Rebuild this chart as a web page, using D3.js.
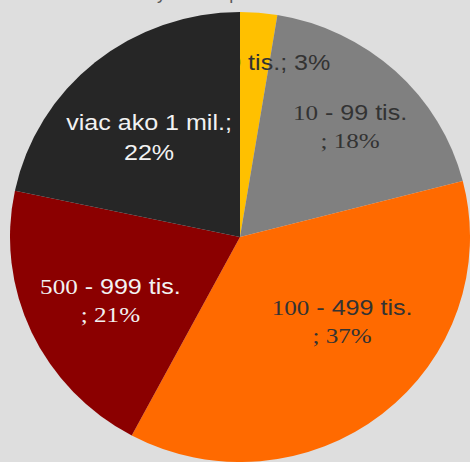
<!DOCTYPE html>
<html>
<head>
<meta charset="utf-8">
<script src="https://cdn.jsdelivr.net/npm/d3@7"></script>
<style>
  html, body { margin: 0; padding: 0; background: #dedede; }
  svg { display: block; }
  .sans { font-family: "Liberation Sans", Arial, sans-serif; }
  .serif { font-family: "Liberation Serif", "Times New Roman", serif; }
</style>
</head>
<body>
<svg id="chart"></svg>
<script>
// share of population by municipality size (percent)
var categories = ['1 - 9 tis.', '10 - 99 tis.', '100 - 499 tis.', '500 - 999 tis.', 'viac ako 1 mil.'];
var values = [2.6, 18.4, 36.8, 20.5, 21.7];
var colors = ['#ffc000', '#808080', '#ff6a00', '#8b0000', '#262626'];
var title = 'Počet obyvateľov podľa veľkosti sídla';

var width = 470, height = 462;
var cx = 240, cy = 237, r = 225, stretch = 230 / 225;

var svg = d3.select('#chart')
    .attr('width', width)
    .attr('height', height);

svg.append('rect')
  .attr('width', width)
  .attr('height', height)
  .style('fill', '#dedede');

// title is cut off by the top edge in the original
svg.append('text')
  .attr('class', 'sans')
  .attr('x', width / 2)
  .attr('y', -1)
  .attr('text-anchor', 'middle')
  .style('font-size', '18px')
  .style('fill', '#595959')
  .text(title);

var pie = d3.pie().sort(null).value(function (d) { return d; });
var arcs = pie(values);

var arc = d3.arc().innerRadius(0).outerRadius(r);

var g = svg.append('g')
    .attr('transform', 'translate(' + cx + ',' + cy + ') scale(' + stretch + ',1)');

g.selectAll('.slice')
  .data(arcs)
  .enter().append('path')
  .attr('class', 'slice')
  .attr('d', arc)
  .style('fill', function (d, i) { return colors[i]; });

function pct(i) {
  return Math.round(values[i]) + '%';
}

// label placement, like excel best fit: radius fraction and a small nudge
var labelRadius = [0.78, 0.67, 0.62, 0.66, 0.6];
var labelNudge = [[6, 0], [6, 0], [14, -26], [8, 0], [-4, 5]];

var labels = svg.append('g')
    .attr('transform', 'translate(' + cx + ',' + cy + ')');

arcs.forEach(function (d, i) {
  var c = d3.arc().innerRadius(0).outerRadius(2 * r * labelRadius[i]).centroid(d);
  var x = c[0] * stretch + labelNudge[i][0], y = c[1] + labelNudge[i][1];
  var dark = i < 3;
  var fill = dark ? '#333333' : '#f2f2f2';
  var t = labels.append('text')
      .attr('text-anchor', 'middle')
      .attr('transform', 'translate(' + x + ',' + y + ') scale(1.14,1)')
      .style('font-size', '22px')
      .style('fill', fill);

  if (i === 0) {
    // the head of this label sits on the black slice and disappears
    var parts0 = categories[i].split(' tis.');
    t.attr('class', 'sans').attr('dy', 8);
    t.append('tspan').style('fill', '#262626').text(parts0[0] + ' ');
    t.append('tspan').text('tis.; ' + pct(i));
    return;
  }
  if (i === 4) {
    t.attr('class', 'sans');
    t.append('tspan').attr('x', 0).attr('dy', -7).text(categories[i] + ';');
    t.append('tspan').attr('x', 0).attr('dy', 30).text(pct(i));
    return;
  }
  var parts = categories[i].split(' - ');
  var l1 = t.append('tspan').attr('x', 0).attr('dy', -6);
  l1.append('tspan').attr('class', 'serif').text(parts[0]);
  l1.append('tspan').attr('class', 'sans').text(' - ' + parts[1]);
  t.append('tspan').attr('class', 'serif').attr('x', 0).attr('dy', 28).text('; ' + pct(i));
});
</script>
</body>
</html>
